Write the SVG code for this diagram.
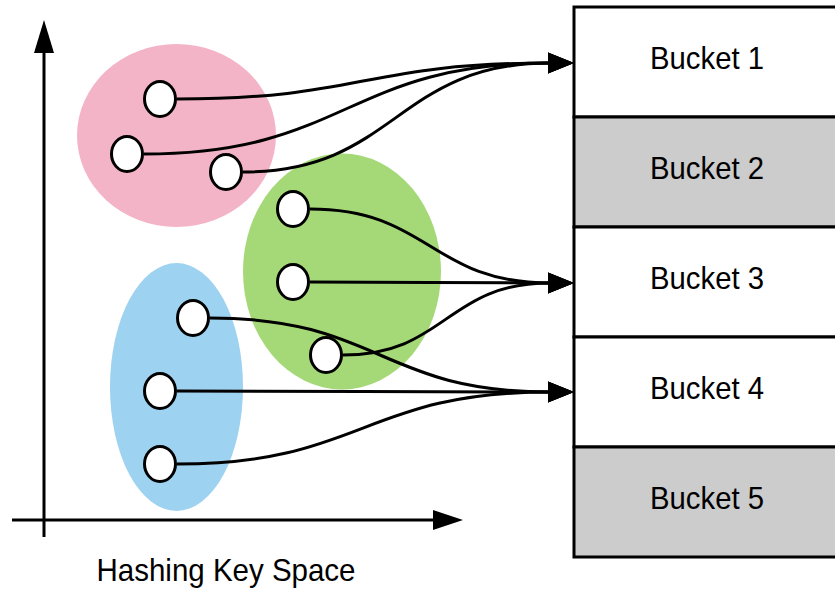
<svg xmlns="http://www.w3.org/2000/svg" width="835" height="590" viewBox="0 0 835 590">
<style>
.node{fill:#fff;stroke:#000;stroke-width:3}
.conn{fill:none;stroke:#000;stroke-width:3}
.bucket{stroke:#000;stroke-width:3}
.lbl{font-family:"Liberation Sans",Arial,sans-serif;font-size:31.5px;fill:#000;text-anchor:middle}
.axis{stroke:#000;stroke-width:3;fill:none}
</style>
<defs>
<marker id="ah" markerUnits="userSpaceOnUse" markerWidth="28" markerHeight="22" refX="2" refY="10.5" orient="auto" overflow="visible">
<path d="M0,0 L26,10.5 L0,21 z" fill="#000"/>
</marker>
</defs>
<g id="axes">
<line class="axis" x1="44" y1="537" x2="44" y2="50"/>
<polygon points="44,20 34,53 54,53" fill="#000"/>
<line class="axis" x1="12" y1="520" x2="436" y2="520"/>
<polygon points="463,520 433,510 433,530" fill="#000"/>
<text class="lbl" x="226" y="581" textLength="259" lengthAdjust="spacingAndGlyphs">Hashing Key Space</text>
</g>
<g id="groups">
<ellipse id="pink-group" cx="176.5" cy="135.5" rx="99.5" ry="91.5" fill="#f4b4c8"/>
<ellipse id="green-group" cx="342" cy="271.5" rx="99" ry="118" fill="#a5d978"/>
<ellipse id="blue-group" cx="176.5" cy="387" rx="66.5" ry="124" fill="#9dd2f0"/>
</g>
<g id="buckets">
<g id="bucket1"><rect class="bucket" x="574" y="7" width="270" height="110" fill="#fff"/><text class="lbl" x="707" y="69" textLength="114" lengthAdjust="spacingAndGlyphs">Bucket 1</text></g>
<g id="bucket2"><rect class="bucket" x="574" y="117" width="270" height="110" fill="#cccccc"/><text class="lbl" x="707" y="179" textLength="114" lengthAdjust="spacingAndGlyphs">Bucket 2</text></g>
<g id="bucket3"><rect class="bucket" x="574" y="227" width="270" height="110" fill="#fff"/><text class="lbl" x="707" y="289" textLength="114" lengthAdjust="spacingAndGlyphs">Bucket 3</text></g>
<g id="bucket4"><rect class="bucket" x="574" y="337" width="270" height="110" fill="#fff"/><text class="lbl" x="707" y="399" textLength="114" lengthAdjust="spacingAndGlyphs">Bucket 4</text></g>
<g id="bucket5"><rect class="bucket" x="574" y="447" width="270" height="110" fill="#cccccc"/><text class="lbl" x="707" y="509" textLength="114" lengthAdjust="spacingAndGlyphs">Bucket 5</text></g>
</g>
<g id="connectors">
<path class="conn" marker-end="url(#ah)" d="M177,99 C363,99 363,63 550,63"/>
<path class="conn" marker-end="url(#ah)" d="M144,154 C347,154 347,63 550,63"/>
<path class="conn" marker-end="url(#ah)" d="M243,172 C396,172 396,63 550,63"/>
<path class="conn" marker-end="url(#ah)" d="M310,209 C430,209 430,283 550,283"/>
<path class="conn" marker-end="url(#ah)" d="M310,282 C430,282 430,283 550,283"/>
<path class="conn" marker-end="url(#ah)" d="M343,355 C446,355 446,283 550,283"/>
<path class="conn" marker-end="url(#ah)" d="M210,318 C380,318 380,392 550,392"/>
<path class="conn" marker-end="url(#ah)" d="M177,391 C363,391 363,392 550,392"/>
<path class="conn" marker-end="url(#ah)" d="M177,464 C363,464 363,392 550,392"/>
</g>
<g id="keys">
<ellipse id="p1" class="node" cx="160" cy="99" rx="15.5" ry="17.5"/>
<ellipse id="p2" class="node" cx="127" cy="154" rx="15.5" ry="17.5"/>
<ellipse id="p3" class="node" cx="226" cy="172" rx="15.5" ry="17.5"/>
<ellipse id="g1" class="node" cx="293" cy="209" rx="15.5" ry="17.5"/>
<ellipse id="g2" class="node" cx="293" cy="282" rx="15.5" ry="17.5"/>
<ellipse id="g3" class="node" cx="326" cy="355" rx="15.5" ry="17.5"/>
<ellipse id="b1" class="node" cx="193" cy="318" rx="15.5" ry="17.5"/>
<ellipse id="b2" class="node" cx="160" cy="391" rx="15.5" ry="17.5"/>
<ellipse id="b3" class="node" cx="160" cy="464" rx="15.5" ry="17.5"/>
</g>
</svg>
